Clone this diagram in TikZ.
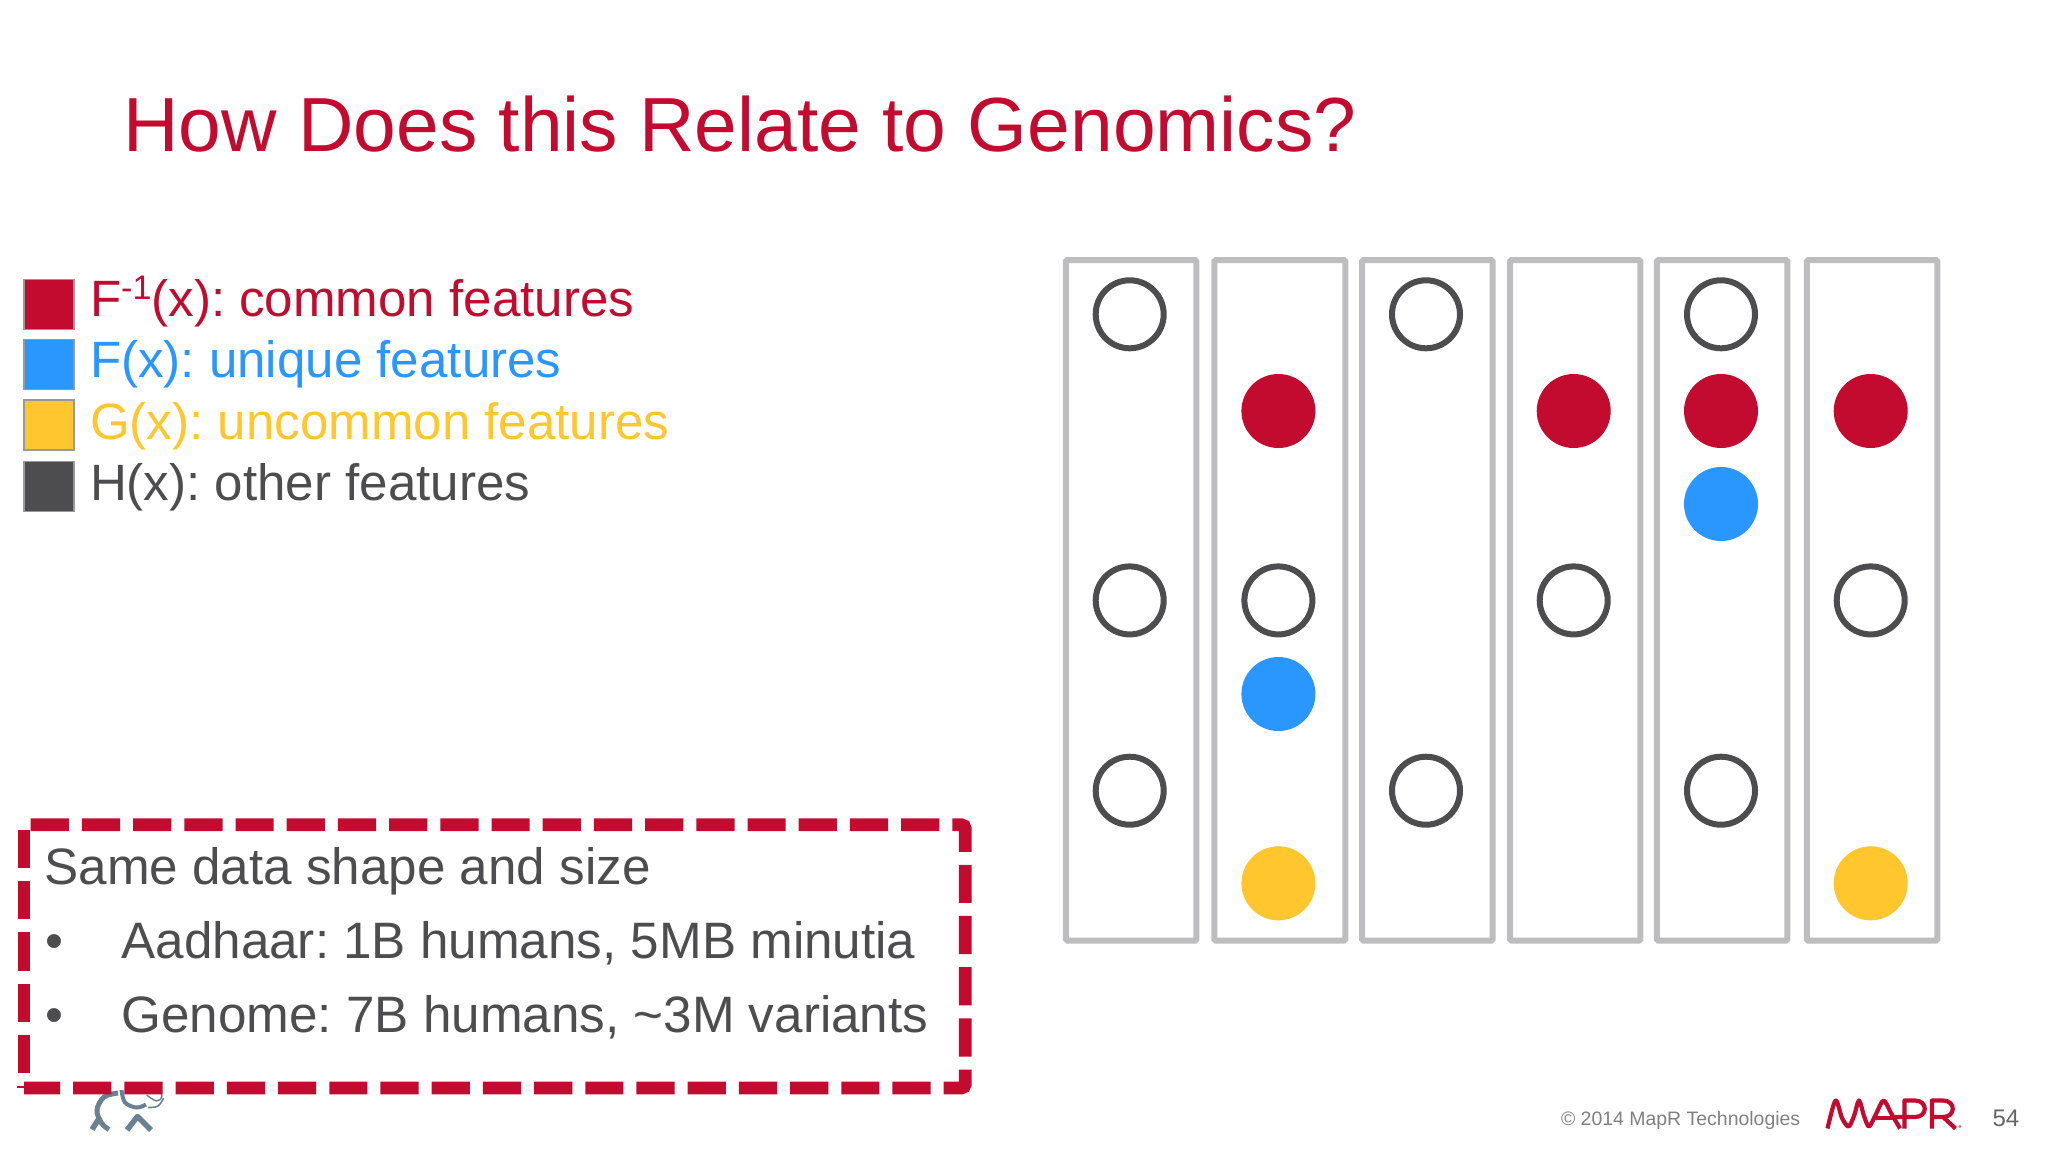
\documentclass[tikz,border=0pt]{standalone}
\usepackage{fontspec}
\setmainfont{Liberation Sans}
\frenchspacing
\definecolor{mred}{HTML}{C30B30}
\definecolor{mblue}{HTML}{2A96FF}
\definecolor{myellow}{HTML}{FFC62E}
\definecolor{mdark}{HTML}{4D4D4F}
\definecolor{mgray}{HTML}{BDBDC0}
\definecolor{mfoot}{HTML}{808083}
\definecolor{mnum}{HTML}{666668}
\definecolor{melephant}{HTML}{6A8093}
\newcommand{\fs}[1]{\fontsize{#1}{#1}\selectfont}
\tikzset{
  x=1pt,y=-1pt,
  txt/.style={anchor=base west,inner sep=0pt,outer sep=0pt},
  legendtxt/.style={txt,font=\fs{51.1}},
  bodytxt/.style={txt,font=\fs{51.2},text=mdark},
  swatch/.style={draw=gray!80,line width=1.2pt,rectangle,minimum width=50pt,inner sep=0pt,outer sep=0pt},
  colbox/.style={draw=mgray,line width=6pt,rectangle,rounded corners=1.5pt,minimum height=680.7pt,inner sep=0pt},
  open/.style={circle,draw=mdark,line width=6pt,minimum size=68pt,inner sep=0pt,fill=white},
  solid dot/.style={circle,minimum size=74pt,inner sep=0pt,fill=#1},
  logo/.style={draw=mred,line width=4.2pt,line cap=butt,line join=round},
  eleph/.style={draw=melephant,line cap=butt,line join=round},
  boxdash/.style={draw=mred,line width=12.7pt,dash pattern=on 38.2pt off 13pt},
}
\begin{document}
\begin{tikzpicture}
\useasboundingbox (0,0) rectangle (2048,1152);
\fill[white] (0,0) rectangle (2048,1152);

% title
\node[txt,font=\fs{76.75},text=mred] (title) at (123.5,151.5) {How Does this Relate to Genomics?};

% legend
\node[swatch,fill=mred,minimum height=50pt] (s1) at (49,304.5) {};
\node[swatch,fill=mblue,minimum height=50pt] (s2) at (49,364.5) {};
\node[swatch,fill=myellow,minimum height=50pt] (s3) at (49,425) {};
\node[swatch,fill=mdark,minimum height=50pt] (s4) at (49,486.5) {};
\node[legendtxt,text=mred] (l1) at (90,316) {F{\fs{34}\raisebox{17pt}{-1}}(x): common features};
\node[legendtxt,text=mblue] (l2) at (90,377) {F(x): unique features};
\node[legendtxt,text=myellow] (l3) at (90,439) {G(x): uncommon features};
\node[legendtxt,text=mdark] (l4) at (90,500) {H(x): other features};

% columns
\node[colbox,minimum width=130.5pt] (c1) at (1131.2,600.35) {};
\node[colbox,minimum width=131pt] (c2) at (1279.8,600.35) {};
\node[colbox,minimum width=130.7pt] (c3) at (1427.35,600.35) {};
\node[colbox,minimum width=130.3pt] (c4) at (1575.15,600.35) {};
\node[colbox,minimum width=130.5pt] (c5) at (1722.05,600.35) {};
\node[colbox,minimum width=130.5pt] (c6) at (1872.05,600.35) {};

% column 1
\node[open] (a1) at (1129.7,314.3) {};
\node[open] (a2) at (1129.7,600.4) {};
\node[open] (a3) at (1129.7,790.7) {};
% column 2
\node[solid dot=mred] (b1) at (1278.4,411) {};
\node[open] (b2) at (1278.4,600.4) {};
\node[solid dot=mblue] (b3) at (1278.4,694) {};
\node[solid dot=myellow] (b4) at (1278.4,883.3) {};
% column 3
\node[open] (d1) at (1426,314.3) {};
\node[open] (d2) at (1426,790.7) {};
% column 4
\node[solid dot=mred] (e1) at (1573.7,411) {};
\node[open] (e2) at (1573.7,600.4) {};
% column 5
\node[open] (f1) at (1721,314.3) {};
\node[solid dot=mred] (f2) at (1721,411) {};
\node[solid dot=mblue] (f3) at (1721,504) {};
\node[open] (f4) at (1721,790.7) {};
% column 6
\node[solid dot=mred] (g1) at (1870.7,411) {};
\node[open] (g2) at (1870.7,600.4) {};
\node[solid dot=myellow] (g3) at (1870.7,883.3) {};

% elephant logo
\draw[eleph,line width=5pt] plot[smooth,tension=.6] coordinates {(118,1093) (104,1097) (97,1110) (101.5,1123) (109,1129.5)};
\draw[eleph,line width=5.5pt] (92,1129.5) -- (100,1117);
\draw[eleph,line width=4pt] plot[smooth,tension=.6] coordinates {(121.5,1090) (125,1102.5) (136.5,1107.5) (146,1104.5)};
\draw[eleph,line width=5.5pt] (127,1130) -- (137.5,1116.5) -- (151,1130);
\draw[eleph,line width=1.4pt] plot[smooth,tension=.7] coordinates {(146.7,1095) (156.7,1101) (162,1096) (158,1090)};
\draw[eleph,line width=1.6pt] plot[smooth,tension=.7] coordinates {(148,1107.5) (158,1106) (163.5,1098)};

% dashed box
\draw[boxdash,rounded corners=4pt]
  (30.7,824.7) -- (965.3,824.7) -- (965.3,1088) -- (24,1088);
\draw[boxdash] (24,1073) -- (24,830);
\draw[draw=mred,line width=1.5pt] (17,1087) -- (24,1087);

% box text
\node[bodytxt] (t0) at (44.5,884.8) {Same data shape and size};
\node[bodytxt] (b1t) at (45,958) {•};
\node[bodytxt] (t1) at (121.5,958) {Aadhaar: 1B humans, 5MB minutia};
\node[bodytxt] (b2t) at (45,1032) {•};
\node[bodytxt] (t2) at (121.5,1032) {Genome: 7B humans, \textasciitilde3M variants};

% footer
\node[txt,font=\fs{19.45},text=mfoot] (foot) at (1561,1125) {© 2014 MapR Technologies};
\node[txt,font=\fs{24},text=mnum] (num) at (1992.5,1126) {54};

% MapR logo
\draw[logo] plot[smooth,tension=.5] coordinates {(1827.5,1128.5) (1835.5,1100.5) (1842,1118) (1848.5,1126.5) (1854,1116) (1859,1100.5) (1864,1116) (1869,1126.5) (1876,1114) (1883.5,1100.5) (1891,1113) (1900,1128.5)};
\draw[logo] (1876,1118) -- (1893,1118);
\draw[logo] (1904.5,1128.5) -- (1904.5,1100.5) -- (1915,1100.5) .. controls (1928,1100.5) and (1928,1117) .. (1915,1117) -- (1895,1117);
\draw[logo] (1932,1128.5) -- (1932,1100.5) -- (1943,1100.5) .. controls (1956,1100.5) and (1956,1117) .. (1943,1117) -- (1934,1117);
\draw[logo] (1943,1117) -- (1955.5,1128.5);
\fill[mred!60] (1960,1126.5) circle (1.6);
\end{tikzpicture}
\end{document}
